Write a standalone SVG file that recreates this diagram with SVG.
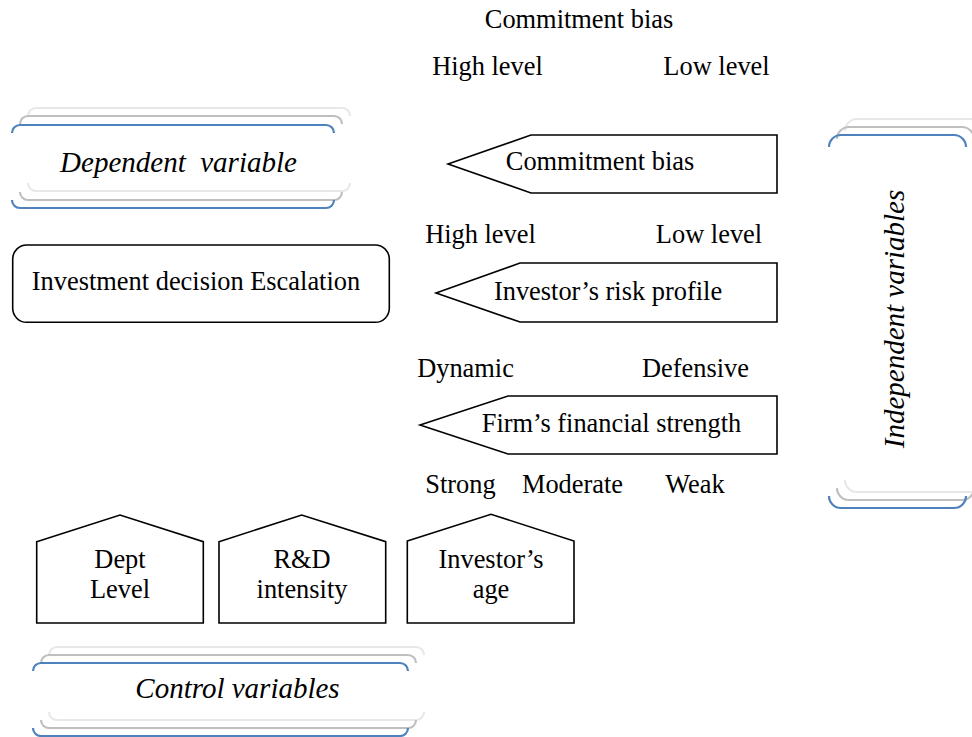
<svg xmlns="http://www.w3.org/2000/svg" width="972" height="737" viewBox="0 0 972 737" font-family="'Liberation Serif', 'Times New Roman', Tinos, 'DejaVu Serif', serif">
<style>
text{font-family:"Liberation Serif","Times New Roman",Tinos,"DejaVu Serif",serif;font-size:26.4px;fill:#000;text-anchor:middle}
.it{font-style:italic;font-size:29px}
.shape{fill:#fff;stroke:#000;stroke-width:1.6}
.b1{fill:none;stroke:#4f81bd;stroke-width:2.2}
.b2{fill:none;stroke:#bfbfbf;stroke-width:2.2}
.b3{fill:none;stroke:#e8e8e8;stroke-width:2.2}
</style>
<rect width="972" height="737" fill="#fff"/>
<g id="labels">
<text x="579" y="28">Commitment bias</text>
<text x="487.5" y="75">High level</text>
<text x="716.5" y="75">Low level</text>
<text x="480.5" y="243">High level</text>
<text x="709" y="243">Low level</text>
<text x="465.5" y="377">Dynamic</text>
<text x="695.5" y="377">Defensive</text>
<text x="460.5" y="493">Strong</text>
<text x="572.5" y="493">Moderate</text>
<text x="695" y="493">Weak</text>
</g>
<g id="dependent-variable">
<path class="b3" d="M28,116 A8,8 0 0 1 36,108 H342 A8,8 0 0 1 350,116 M28,183 A8,8 0 0 0 36,191 H342 A8,8 0 0 0 350,183"/>
<path class="b2" d="M20,124 A8,8 0 0 1 28,116 H334 A8,8 0 0 1 342,124 M20,192 A8,8 0 0 0 28,200 H334 A8,8 0 0 0 342,192"/>
<path class="b1" d="M12,133 A8,8 0 0 1 20,125 H326 A8,8 0 0 1 334,133 M12,200 A8,8 0 0 0 20,208 H326 A8,8 0 0 0 334,200"/>
<text class="it" x="178.5" y="172" xml:space="preserve">Dependent  variable</text>
</g>
<g id="investment-decision-escalation">
<rect class="shape" x="12.7" y="245" width="376.6" height="77.3" rx="14" ry="14"/>
<text x="196" y="290">Investment decision Escalation</text>
</g>
<g id="commitment-bias">
<polygon class="shape" points="448,164 531,135 777,135 777,193 531,193"/>
<text x="600" y="170">Commitment bias</text>
</g>
<g id="risk-profile">
<polygon class="shape" points="436,293 520,263 777,263 777,322 520,322"/>
<text x="608" y="300">Investor’s risk profile</text>
</g>
<g id="financial-strength">
<polygon class="shape" points="420,425 508,396 777,396 777,454 508,454"/>
<text x="611.5" y="432">Firm’s financial strength</text>
</g>
<g id="independent-variables">
<path class="b3" d="M845,131 A12,12 0 0 1 857,119 H970 A12,12 0 0 1 982,131 M845,480 A12,12 0 0 0 857,492 H970 A12,12 0 0 0 982,480"/>
<path class="b2" d="M837,139 A12,12 0 0 1 849,127 H962 A12,12 0 0 1 974,139 M837,488 A12,12 0 0 0 849,500 H962 A12,12 0 0 0 974,488"/>
<path class="b1" d="M829,147 A12,12 0 0 1 841,135 H954 A12,12 0 0 1 966,147 M829,496 A12,12 0 0 0 841,508 H954 A12,12 0 0 0 966,496"/>
<text class="it" transform="translate(904,319) rotate(-90)">Independent variables</text>
</g>
<g id="dept-level">
<polygon class="shape" points="36.7,541.7 120,515 203.3,541.7 203.3,623 36.7,623"/>
<text x="120" y="568">Dept</text>
<text x="120" y="598">Level</text>
</g>
<g id="rd-intensity">
<polygon class="shape" points="219,541.7 301.7,515 385.7,541.7 385.7,623 219,623"/>
<text x="302" y="568">R&amp;D</text>
<text x="302" y="598">intensity</text>
</g>
<g id="investors-age">
<polygon class="shape" points="407.3,541 491,514.3 574,541 574,623 407.3,623"/>
<text x="491" y="568">Investor’s</text>
<text x="491" y="598">age</text>
</g>
<g id="control-variables">
<path class="b3" d="M49,655 A8,8 0 0 1 57,647 H416 A8,8 0 0 1 424,655 M49,712 A8,8 0 0 0 57,720 H416 A8,8 0 0 0 424,712"/>
<path class="b2" d="M41,663 A8,8 0 0 1 49,655 H408 A8,8 0 0 1 416,663 M41,720 A8,8 0 0 0 49,728 H408 A8,8 0 0 0 416,720"/>
<path class="b1" d="M33,671 A8,8 0 0 1 41,663 H400 A8,8 0 0 1 408,671 M33,728 A8,8 0 0 0 41,736 H400 A8,8 0 0 0 408,728"/>
<text class="it" x="237.5" y="698">Control variables</text>
</g>
<g id="connectors"/>
</svg>
